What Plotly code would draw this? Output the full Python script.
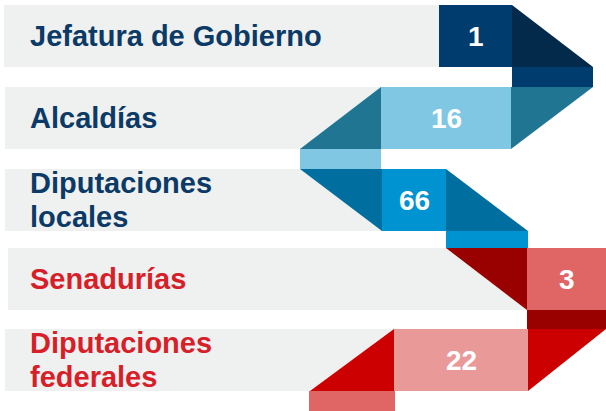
import plotly.graph_objects as go

# ---- data ----
categories = ["Jefatura de Gobierno", "Alcaldías", "Diputaciones locales", "Senadurías", "Diputaciones federales"]
label_lines = [["Jefatura de Gobierno"], ["Alcaldías"], ["Diputaciones", "locales"], ["Senadurías"], ["Diputaciones", "federales"]]
values = [1, 16, 66, 3, 22]

# ---- layout / style ----
W, H = 606, 411
row_top = [5, 87, 169, 248, 329]
row_h = 62
band_left = [4, 5, 5, 8, 5]
box_left = [439, 381, 382, 527, 394]
box_right = [512, 511, 446, 606, 528]
label_color = ["#0b3a66", "#0b3a66", "#0b3a66", "#d71f2a", "#d71f2a"]
box_color = ["#003d6e", "#7fc7e3", "#0093d2", "#e06666", "#ea9999"]
fold_color = ["#032a4b", "#1f7592", "#006e9e", "#990000", "#cc0000"]
strip_color = ["#003d6e", "#7fc7e3", "#0093d2", "#990000", "#e06666"]
band_color = "#eff0f0"
FONT = "Liberation Sans, Arial, sans-serif"

def poly(pts, color):
    d = "M " + " L ".join(f"{x},{y}" for x, y in pts) + " Z"
    return dict(type="path", path=d, xref="x", yref="y", fillcolor=color,
                line=dict(width=0), layer="below")

shapes = []
folds = [
    [[(512, 0), (512, 1), (593, 1)]],
    [[(381, 0), (381, 1), (300, 1)], [(511, 0), (593, 0), (511, 1)]],
    [[(300, 0), (382, 0), (382, 1)], [(446, 0), (446, 1), (528, 1)]],
    [[(446, 0), (527, 0), (527, 1)]],
    [[(394, 0), (394, 1), (310, 1)], [(528, 0), (606, 0), (528, 1)]],
]
strips = [(512, 593, 67, 87), (300, 381, 149, 169), (446, 528, 231, 248),
          (527, 606, 310, 329), (309, 395, 391, 411)]

for i in range(len(values)):
    t = row_top[i]
    b = t + row_h
    shapes.append(poly([(band_left[i], t), (box_left[i], t), (box_left[i], b), (band_left[i], b)], band_color))
    shapes.append(poly([(box_left[i], t), (box_right[i], t), (box_right[i], b), (box_left[i], b)], box_color[i]))
    for tri in folds[i]:
        shapes.append(poly([(x, t if f == 0 else b) for x, f in tri], fold_color[i]))
    x0, x1, y0, y1 = strips[i]
    shapes.append(poly([(x0, y0), (x1, y0), (x1, y1), (x0, y1)], strip_color[i]))

annotations = []
for i in range(len(values)):
    cy = row_top[i] + row_h / 2
    lines = label_lines[i]
    n = len(lines)
    for k, ln in enumerate(lines):
        y = cy + (k - (n - 1) / 2) * 34
        annotations.append(dict(x=28, y=y, xref="x", yref="y", text=f"<b>{ln}</b>",
                                showarrow=False, xanchor="left", yanchor="middle",
                                font=dict(family=FONT, size=29, color=label_color[i])))
    annotations.append(dict(x=(box_left[i] + box_right[i]) / 2, y=cy, xref="x", yref="y",
                            text=f"<b>{values[i]}</b>", showarrow=False,
                            xanchor="center", yanchor="middle",
                            font=dict(family=FONT, size=28, color="white")))

fig = go.Figure()
fig.add_trace(go.Scatter(x=[0, W], y=[0, H], mode="markers", marker=dict(opacity=0),
                         hoverinfo="skip", showlegend=False))
fig.update_layout(
    width=W, height=H, autosize=False,
    margin=dict(l=0, r=0, t=0, b=0),
    paper_bgcolor="white", plot_bgcolor="white",
    xaxis=dict(range=[0, W], visible=False, fixedrange=True),
    yaxis=dict(range=[H, 0], visible=False, fixedrange=True),
    shapes=shapes, annotations=annotations, showlegend=False,
)
fig.write_html("out.html", config={"displayModeBar": False},
               post_script="document.body.style.margin='0';document.body.style.overflow='hidden';")
